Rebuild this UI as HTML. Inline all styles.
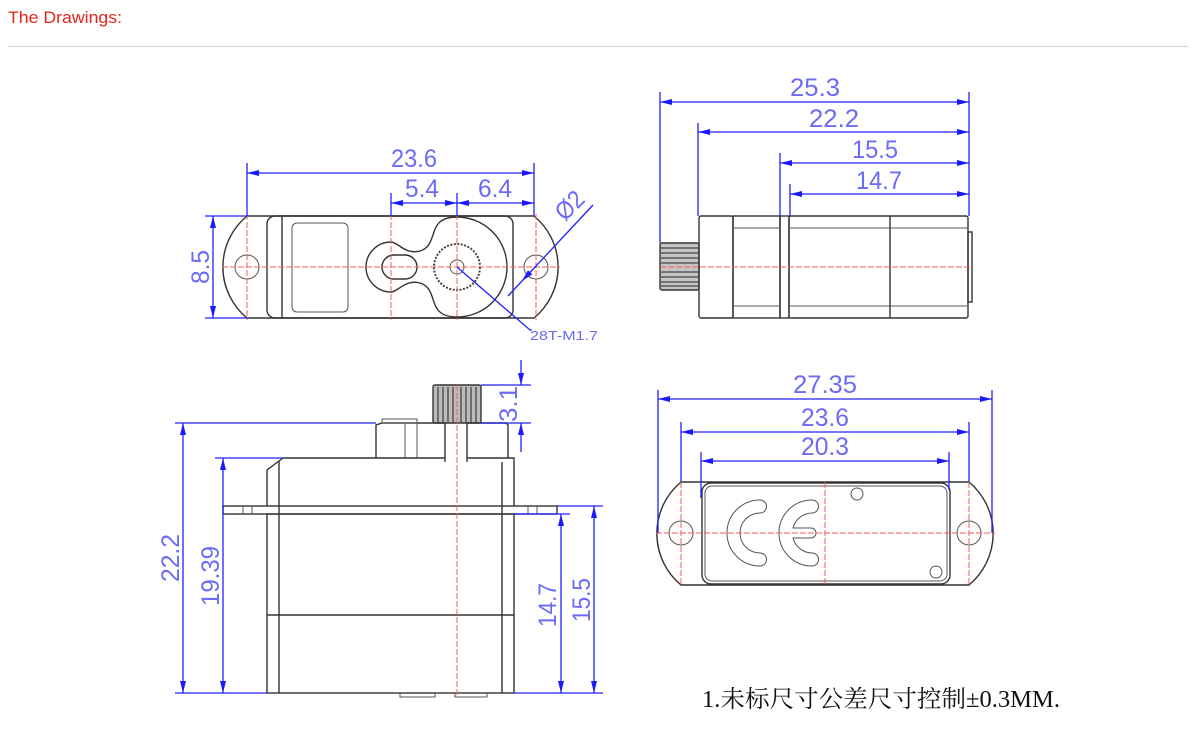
<!DOCTYPE html>
<html><head><meta charset="utf-8"><style>
html,body{margin:0;padding:0;background:#fff;width:1200px;height:737px;overflow:hidden}
svg{display:block}
.t{font-family:"Liberation Sans",sans-serif;fill:#6b6bf5;font-size:25px}
.d{stroke:#2020ff;stroke-width:1.3;fill:none}
.k{stroke:#333;stroke-width:1.4;fill:none}
.g{stroke:#555;stroke-width:1;fill:none}
.r{stroke:#ff5a5a;stroke-width:1;fill:none;stroke-dasharray:6 2}
</style></head><body>
<svg width="1200" height="737" viewBox="0 0 1200 737" xmlns="http://www.w3.org/2000/svg">
<defs>
<marker id="a" viewBox="0 0 12 6" refX="12" refY="3" markerWidth="12" markerHeight="6" markerUnits="userSpaceOnUse" orient="auto-start-reverse"><path d="M0,0 L12,3 L0,6z" fill="#1a1aff"/></marker>
</defs>
<text x="8" y="23" font-family="Liberation Sans,sans-serif" font-size="17" fill="#e0251c" textLength="114" lengthAdjust="spacingAndGlyphs">The Drawings:</text>
<line x1="8" y1="46.5" x2="1188" y2="46.5" stroke="#d8d8d8" stroke-width="1.2"/>

<!-- ===== TOP LEFT VIEW ===== -->
<g>
<path class="k" d="M247,216 L534,216 A66,66 0 0 1 534,318 L247,318 A66,66 0 0 1 247,216 Z"/>
<rect class="k" x="267" y="216" width="246" height="102" rx="8"/>
<line class="k" x1="282" y1="216" x2="282" y2="318"/>
<rect class="g" x="292" y="223" width="56" height="89" rx="5"/>
<path class="k" d="M420,251 C440,245 425,217 457,217 A50,50 0 1 1 457,317 C425,317 440,289 420,283 C405,279 398,292 391,292 A25,25 0 0 1 391,242 C398,242 405,255 420,251 Z"/>
<rect class="k" x="382" y="255" width="35" height="24" rx="12"/>
<circle cx="457" cy="267" r="23" fill="none" stroke="#444" stroke-width="2" stroke-dasharray="2 1.5"/>
<circle class="g" cx="457" cy="267" r="7"/>
<circle class="g" cx="247" cy="267" r="12"/>
<circle class="g" cx="536" cy="267" r="12"/>
<line class="r" x1="222" y1="267" x2="560" y2="267"/>
<line class="r" x1="247" y1="214" x2="247" y2="320"/>
<line class="r" x1="391" y1="214" x2="391" y2="320"/>
<line class="r" x1="457" y1="214" x2="457" y2="320"/>
<line class="r" x1="536" y1="214" x2="536" y2="320"/>
<line class="d" x1="247" y1="163" x2="247" y2="216"/>
<line class="d" x1="534" y1="163" x2="534" y2="216"/>
<line class="d" x1="391" y1="193" x2="391" y2="216"/>
<line class="d" x1="457" y1="193" x2="457" y2="216"/>
<line class="d" x1="247" y1="173" x2="534" y2="173" marker-start="url(#a)" marker-end="url(#a)"/>
<line class="d" x1="391" y1="203" x2="457" y2="203" marker-start="url(#a)" marker-end="url(#a)"/>
<line class="d" x1="457" y1="203" x2="534" y2="203" marker-start="url(#a)" marker-end="url(#a)"/>
<text class="t" x="391" y="167" textLength="46" lengthAdjust="spacingAndGlyphs">23.6</text>
<text class="t" x="405" y="197" textLength="34" lengthAdjust="spacingAndGlyphs">5.4</text>
<text class="t" x="478" y="197" textLength="34" lengthAdjust="spacingAndGlyphs">6.4</text>
<line class="d" x1="205" y1="216" x2="247" y2="216"/>
<line class="d" x1="205" y1="318" x2="247" y2="318"/>
<line class="d" x1="213" y1="216" x2="213" y2="318" marker-start="url(#a)" marker-end="url(#a)"/>
<text class="t" transform="translate(209,284) rotate(-90)" textLength="34" lengthAdjust="spacingAndGlyphs">8.5</text>
<line class="d" x1="593" y1="205" x2="522" y2="281" marker-end="url(#a)"/>
<line class="d" x1="508" y1="296" x2="522" y2="281"/>
<text class="t" transform="translate(565,222) rotate(-45)" textLength="30" lengthAdjust="spacingAndGlyphs">Ø2</text>
<polyline class="d" points="457,267 530,330 532,330"/>
<text x="530" y="340" font-family="Liberation Sans,sans-serif" font-size="13" fill="#6b6bf5" textLength="68" lengthAdjust="spacingAndGlyphs">28T-M1.7</text>
</g>

<!-- ===== BOTTOM LEFT VIEW ===== -->
<g>
<rect x="433" y="385" width="48" height="38" fill="#bbb" stroke="#333" stroke-width="1.4" rx="2"/>
<g stroke="#444" stroke-width="1.3">
<line x1="438" y1="387" x2="438" y2="423"/><line x1="443" y1="387" x2="443" y2="423"/><line x1="448" y1="387" x2="448" y2="423"/><line x1="453" y1="387" x2="453" y2="423"/><line x1="461" y1="387" x2="461" y2="423"/><line x1="466" y1="387" x2="466" y2="423"/><line x1="471" y1="387" x2="471" y2="423"/><line x1="476" y1="387" x2="476" y2="423"/>
</g>
<path class="k" d="M376,458 L376,425 L382,423 L417,423 L445,423 L445,462 M467,462 L467,423 L506,423 L508,425 L508,458"/>
<rect class="g" x="382" y="419" width="35" height="4"/>
<line class="g" x1="405" y1="423" x2="405" y2="458"/><line class="g" x1="417" y1="423" x2="417" y2="458"/>
<path class="k" d="M283,458 L445,458 M467,458 L514,458 L514,506 M283,458 L267,470 L267,506 M279,461 L279,514"/>
<line class="k" x1="502" y1="462" x2="502" y2="514"/>
<rect class="k" x="223" y="506" width="334" height="8"/>
<line class="g" x1="243" y1="506" x2="243" y2="514"/><line class="g" x1="252" y1="506" x2="252" y2="514"/>
<line class="g" x1="528" y1="506" x2="528" y2="514"/><line class="g" x1="537" y1="506" x2="537" y2="514"/>
<rect class="k" x="267" y="514" width="247" height="179"/>
<line class="k" x1="279" y1="514" x2="279" y2="693"/>
<line class="k" x1="502" y1="514" x2="502" y2="693"/>
<line class="k" x1="267" y1="615" x2="514" y2="615"/>
<path class="g" d="M400,693 L400,697 L435,697 L435,693 M455,693 L455,697 L487,697 L487,693"/>
<line class="r" x1="457" y1="385" x2="457" y2="697"/>
<line class="d" x1="175" y1="423" x2="376" y2="423"/>
<line class="d" x1="175" y1="693" x2="267" y2="693"/>
<line class="d" x1="183" y1="423" x2="183" y2="693" marker-start="url(#a)" marker-end="url(#a)"/>
<text class="t" transform="translate(179,582) rotate(-90)" textLength="48" lengthAdjust="spacingAndGlyphs">22.2</text>
<line class="d" x1="215" y1="458" x2="283" y2="458"/>
<line class="d" x1="223" y1="458" x2="223" y2="693" marker-start="url(#a)" marker-end="url(#a)"/>
<text class="t" transform="translate(219,606) rotate(-90)" textLength="60" lengthAdjust="spacingAndGlyphs">19.39</text>
<line class="d" x1="481" y1="385" x2="531" y2="385"/>
<line class="d" x1="481" y1="423" x2="531" y2="423"/>
<line class="d" x1="521" y1="360" x2="521" y2="385" marker-end="url(#a)"/>
<line class="d" x1="521" y1="452" x2="521" y2="423" marker-end="url(#a)"/>
<text class="t" transform="translate(517,422) rotate(-90)" textLength="36" lengthAdjust="spacingAndGlyphs">3.1</text>
<line class="d" x1="514" y1="693" x2="603" y2="693"/>
<line class="d" x1="557" y1="506" x2="603" y2="506"/>
<line class="d" x1="514" y1="514" x2="570" y2="514"/>
<line class="d" x1="561" y1="514" x2="561" y2="693" marker-start="url(#a)" marker-end="url(#a)"/>
<line class="d" x1="594" y1="506" x2="594" y2="693" marker-start="url(#a)" marker-end="url(#a)"/>
<text class="t" transform="translate(556,627) rotate(-90)" textLength="44" lengthAdjust="spacingAndGlyphs">14.7</text>
<text class="t" transform="translate(590,622) rotate(-90)" textLength="44" lengthAdjust="spacingAndGlyphs">15.5</text>
</g>

<!-- ===== TOP RIGHT VIEW ===== -->
<g>
<rect x="660" y="243" width="39" height="47" fill="#c4c4c4" stroke="#333" stroke-width="1.4" rx="2"/>
<g stroke="#444" stroke-width="1.2">
<line x1="661" y1="248" x2="699" y2="248"/><line x1="661" y1="253" x2="699" y2="253"/><line x1="661" y1="258" x2="699" y2="258"/><line x1="661" y1="263" x2="699" y2="263"/><line x1="661" y1="272" x2="699" y2="272"/><line x1="661" y1="277" x2="699" y2="277"/><line x1="661" y1="282" x2="699" y2="282"/><line x1="661" y1="286" x2="699" y2="286"/>
</g>
<rect class="k" x="699" y="216" width="34" height="102" rx="2"/>
<rect class="k" x="733" y="216" width="47" height="102"/>
<rect class="k" x="780" y="216" width="9" height="102"/>
<rect class="k" x="789" y="216" width="179" height="102" rx="2"/>
<line class="k" x1="890" y1="216" x2="890" y2="318"/>
<line class="g" x1="733" y1="228" x2="780" y2="228"/><line class="g" x1="733" y1="306" x2="780" y2="306"/>
<line class="g" x1="789" y1="228" x2="968" y2="228"/><line class="g" x1="789" y1="306" x2="968" y2="306"/>
<rect class="k" x="968" y="232" width="4" height="70"/>
<line class="r" x1="660" y1="267" x2="973" y2="267"/>
<line class="d" x1="660" y1="92" x2="660" y2="243"/>
<line class="d" x1="698" y1="123" x2="698" y2="216"/>
<line class="d" x1="780" y1="153" x2="780" y2="216"/>
<line class="d" x1="790" y1="184" x2="790" y2="216"/>
<line class="d" x1="969" y1="92" x2="969" y2="216"/>
<line class="d" x1="660" y1="102" x2="969" y2="102" marker-start="url(#a)" marker-end="url(#a)"/>
<line class="d" x1="698" y1="132" x2="969" y2="132" marker-start="url(#a)" marker-end="url(#a)"/>
<line class="d" x1="780" y1="163" x2="969" y2="163" marker-start="url(#a)" marker-end="url(#a)"/>
<line class="d" x1="790" y1="194" x2="969" y2="194" marker-start="url(#a)" marker-end="url(#a)"/>
<text class="t" x="790" y="96" textLength="50" lengthAdjust="spacingAndGlyphs">25.3</text>
<text class="t" x="809" y="127" textLength="50" lengthAdjust="spacingAndGlyphs">22.2</text>
<text class="t" x="852" y="158" textLength="46" lengthAdjust="spacingAndGlyphs">15.5</text>
<text class="t" x="856" y="189" textLength="46" lengthAdjust="spacingAndGlyphs">14.7</text>
</g>

<!-- ===== BOTTOM RIGHT VIEW ===== -->
<g>
<path class="k" d="M681,482 L969,482 A67,67 0 0 1 969,585 L681,585 A67,67 0 0 1 681,482 Z"/>
<rect class="k" x="702" y="483" width="248" height="101" rx="9"/>
<rect class="g" x="705" y="486" width="242" height="95" rx="7"/>
<circle class="g" cx="681" cy="533" r="12"/>
<circle class="g" cx="969" cy="533" r="12"/>
<circle class="g" cx="857" cy="494" r="6"/>
<circle class="g" cx="936" cy="572" r="6"/>
<path class="g" d="M760,500 A33,33 0 1 0 760,566 A6,6 0 0 0 760,553 A20,20 0 1 1 760,513 A6,6 0 0 0 760,500 Z"/>
<path class="g" d="M812,500 A33,33 0 1 0 812,566 A6,6 0 0 0 812,553 A20,20 0 0 1 793,538 L811,538 A5,5 0 0 0 811,528 L793,528 A20,20 0 0 1 812,513 A6,6 0 0 0 812,500 Z"/>
<line class="r" x1="656" y1="533" x2="995" y2="533"/>
<line class="r" x1="681" y1="482" x2="681" y2="585"/>
<line class="r" x1="825" y1="482" x2="825" y2="585"/>
<line class="r" x1="969" y1="482" x2="969" y2="585"/>
<line class="d" x1="658" y1="390" x2="658" y2="533"/>
<line class="d" x1="992" y1="390" x2="992" y2="533"/>
<line class="d" x1="681" y1="422" x2="681" y2="482"/>
<line class="d" x1="969" y1="422" x2="969" y2="482"/>
<line class="d" x1="701" y1="452" x2="701" y2="498"/>
<line class="d" x1="949" y1="452" x2="949" y2="490"/>
<line class="d" x1="658" y1="399" x2="992" y2="399" marker-start="url(#a)" marker-end="url(#a)"/>
<line class="d" x1="681" y1="432" x2="969" y2="432" marker-start="url(#a)" marker-end="url(#a)"/>
<line class="d" x1="701" y1="461" x2="949" y2="461" marker-start="url(#a)" marker-end="url(#a)"/>
<text class="t" x="793" y="393" textLength="64" lengthAdjust="spacingAndGlyphs">27.35</text>
<text class="t" x="801" y="426" textLength="48" lengthAdjust="spacingAndGlyphs">23.6</text>
<text class="t" x="801" y="455" textLength="48" lengthAdjust="spacingAndGlyphs">20.3</text>
</g>

<text x="702" y="707" font-family="Liberation Serif,Noto Serif CJK SC,serif" font-size="24" fill="#111" textLength="358" lengthAdjust="spacingAndGlyphs">1.未标尺寸公差尺寸控制±0.3MM.</text>
</svg>
</body></html>
